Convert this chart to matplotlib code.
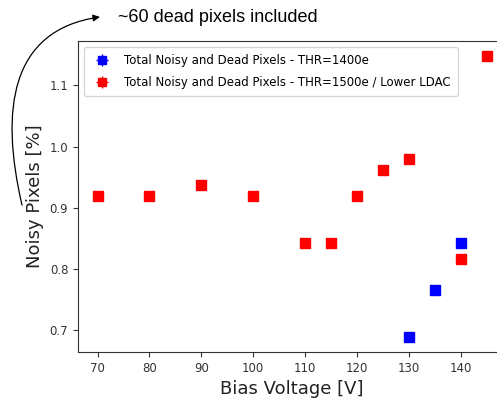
import matplotlib
matplotlib.use('Agg')
import matplotlib.pyplot as plt
from matplotlib.patches import FancyArrowPatch
from matplotlib.path import Path
import numpy as np

# bias voltage [V] and noisy+dead pixel fraction [%]
v_1400 = [130, 135, 140]
noisy_1400 = [0.689, 0.766, 0.842]

v_1500 = [70, 80, 90, 100, 110, 115, 120, 125, 130, 140, 145]
noisy_1500 = [0.920, 0.920, 0.938, 0.920, 0.842, 0.842, 0.920, 0.962, 0.980, 0.816, 1.148]

label_1400 = 'Total Noisy and Dead Pixels - THR=1400e'
label_1500 = 'Total Noisy and Dead Pixels - THR=1500e / Lower LDAC'

W, H = 497, 403
fig = plt.figure(figsize=(W / 100, H / 100), dpi=100)
ax = fig.add_axes([0.157, 0.1266, 0.862, 0.7717])

ax.errorbar(v_1400, noisy_1400, xerr=0.001, yerr=0.001, fmt='s', color='blue',
            markersize=7, elinewidth=1, label=label_1400)
ax.errorbar(v_1500, noisy_1500, xerr=0.001, yerr=0.001, fmt='s', color='red',
            markersize=7, elinewidth=1, label=label_1500)

ax.set_xticks([70, 80, 90, 100, 110, 120, 130, 140])
ax.set_yticks([0.7, 0.8, 0.9, 1.0, 1.1])
ax.tick_params(labelsize=8.5, labelcolor='#333333', color='#333333')
for s in ax.spines.values():
    s.set_color('#333333')
ax.set_xlabel('Bias Voltage [V]', fontsize=13, color='#222222')
ax.set_ylabel('Noisy Pixels [%]', fontsize=13, color='#222222')

ax.legend(loc='upper left', fontsize=8.5, handlelength=1.9, handletextpad=0.9,
          labelspacing=0.75, borderpad=0.6, markerscale=0.85)

# note about dead pixels, with a hand-drawn style curved arrow (pixel coords, y down)
pts = [(22, 205), (0, 110), (10, 30), (100, 17)]
verts = [(x / W, 1 - y / H) for x, y in pts]
arrow_path = Path(verts, [Path.MOVETO, Path.CURVE4, Path.CURVE4, Path.CURVE4])
arr = FancyArrowPatch(path=arrow_path, arrowstyle='-|>', mutation_scale=10,
                      color='black', lw=0.9, transform=fig.transFigure)
fig.add_artist(arr)
fig.text(118 / W, 1 - 17 / H, '~60 dead pixels included', fontsize=13,
         family='Liberation Sans', va='center', ha='left')

fig.savefig('out.png', dpi=100)
